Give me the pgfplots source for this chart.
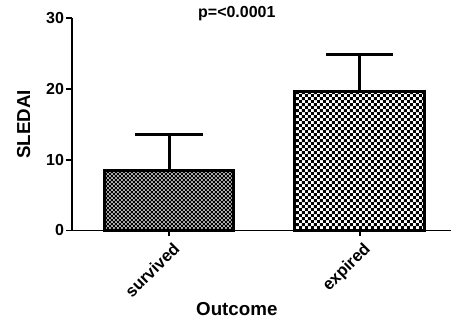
\documentclass[border=0pt]{standalone}
\usepackage{pgfplots}
\pgfplotsset{compat=1.18}
\usepackage{fontspec}
\setmainfont{Liberation Sans}
\usetikzlibrary{patterns}
\pgfdeclarepatternformonly{checkbig}{\pgfpointorigin}{\pgfpoint{4.6pt}{4.6pt}}{\pgfpoint{4.6pt}{4.6pt}}{%
  \pgfpathrectangle{\pgfpointorigin}{\pgfpoint{2.3pt}{2.3pt}}%
  \pgfpathrectangle{\pgfpoint{2.3pt}{2.3pt}}{\pgfpoint{2.3pt}{2.3pt}}%
  \pgfusepath{fill}}
\pgfdeclarepatternformonly{checksmall}{\pgfpointorigin}{\pgfpoint{2.8pt}{2.8pt}}{\pgfpoint{2.8pt}{2.8pt}}{%
  \pgfpathrectangle{\pgfpointorigin}{\pgfpoint{1.4pt}{1.4pt}}%
  \pgfpathrectangle{\pgfpoint{1.4pt}{1.4pt}}{\pgfpoint{1.4pt}{1.4pt}}%
  \pgfusepath{fill}}
\begin{document}
\begin{tikzpicture}
\begin{axis}[
  scale only axis,
  width=273pt, height=153pt,
  xmin=-0.51, xmax=1.48,
  ymin=0, ymax=30,
  ytick={0,10,20,30},
  xtick={0,1},
  xticklabels={survived,expired},
  x tick label style={rotate=45, anchor=north east, font=\bfseries\fontsize{12}{13}\selectfont, inner sep=1pt, yshift=-3pt},
  y tick label style={font=\bfseries\fontsize{11.5}{12}\selectfont, inner sep=1.5pt},
  /pgf/number format/assume math mode=true,
  axis x line*=bottom,
  axis y line*=left,
  axis line style={line width=1.4pt},
  every tick/.style={black, line width=1.4pt},
  tick align=outside,
  major tick length=4pt,
  xlabel={\bfseries Outcome},
  ylabel={\bfseries SLEDAI},
  label style={font=\bfseries\fontsize{13.5}{15}\selectfont},
  ylabel style={at={(axis description cs:-0.127,0.5)}, anchor=center},
  xlabel style={at={(axis description cs:0.435,-0.372)}, anchor=center},
  clip=false,
]
\addplot[ybar, bar width=0.68, draw=black, line width=2.2pt, fill=black!30,
  postaction={pattern=checksmall, pattern color=black},
  error bars/.cd, y dir=plus, y explicit, error bar style={line width=2.2pt}, error mark options={rotate=90, mark size=24.5pt, line width=2.2pt}]
  coordinates {(0,8.5) +- (0,5.0)};
\addplot[ybar, bar width=0.68, draw=black, line width=2.2pt, fill=white,
  postaction={pattern=checkbig, pattern color=black},
  error bars/.cd, y dir=plus, y explicit, error bar style={line width=2.2pt}, error mark options={rotate=90, mark size=24pt, line width=2.2pt}]
  coordinates {(1,19.6) +- (0,5.2)};
\node[font=\bfseries\fontsize{11.5}{12}\selectfont] at (axis description cs:0.435,1.019) {p=<0.0001};
\end{axis}
\pgfresetboundingbox
\useasboundingbox ([xshift=-51.8pt,yshift=-67pt]current axis.south west) rectangle ([yshift=13pt]current axis.north east);
\end{tikzpicture}
\end{document}
